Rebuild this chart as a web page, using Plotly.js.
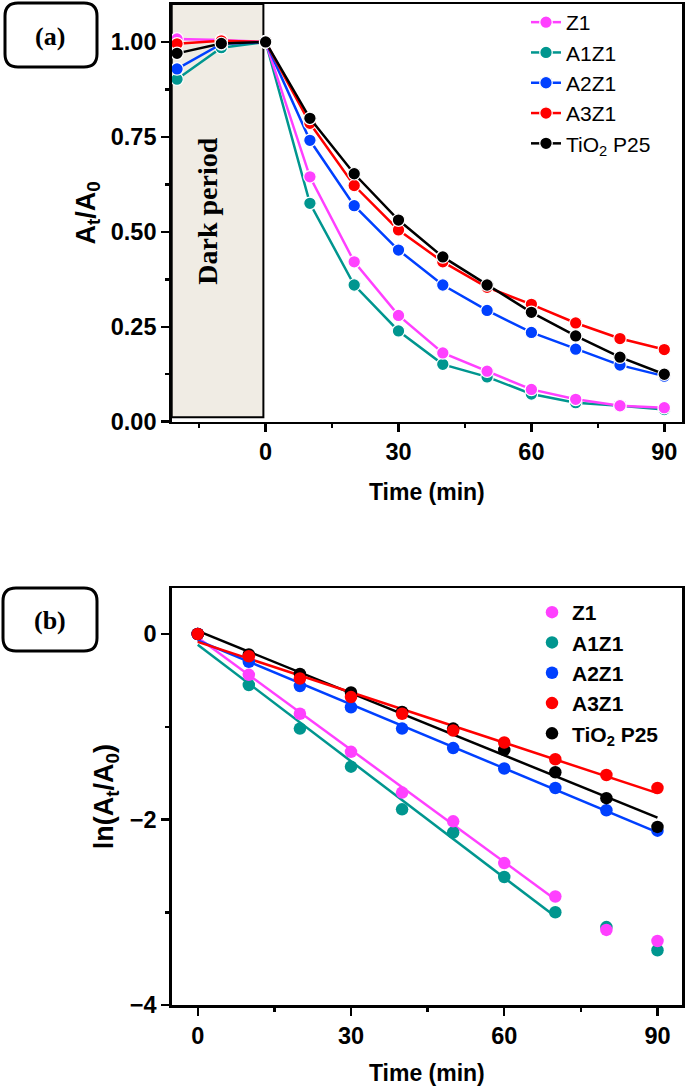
<!DOCTYPE html>
<html>
<head>
<meta charset="utf-8">
<script src="https://cdn.plot.ly/plotly-3.0.1.min.js"></script>
<style>html,body{margin:0;padding:0;background:#fff;}#chart{width:688px;height:1086px;}</style>
</head>
<body>
<div id="chart"></div>
<script>
// ---------- data ----------
const seriesNames = ["Z1", "A1Z1", "A2Z1", "A3Z1", "TiO<sub>2</sub> P25"];
const seriesColors = ["#ff40ff", "#00968f", "#0040ff", "#ff0000", "#000000"];

// panel (a): At/A0 vs time (min)
const timeA = [-20, -10, 0, 10, 20, 30, 40, 50, 60, 70, 80, 90];
const z1A   = [1.008, 1.005, 1.00, 0.645, 0.421, 0.280, 0.181, 0.133, 0.085, 0.059, 0.042, 0.037];
const a1z1A = [0.902, 0.985, 1.00, 0.575, 0.360, 0.239, 0.151, 0.118, 0.073, 0.050, 0.042, 0.032];
const a2z1A = [0.929, 0.995, 1.00, 0.741, 0.569, 0.452, 0.360, 0.293, 0.235, 0.191, 0.149, 0.120];
const a3z1A = [0.995, 1.003, 1.00, 0.786, 0.622, 0.505, 0.421, 0.354, 0.309, 0.260, 0.219, 0.190];
const tio2A = [0.970, 0.996, 1.00, 0.799, 0.653, 0.531, 0.434, 0.360, 0.288, 0.226, 0.170, 0.125];

// panel (b): ln(At/A0) vs time (min)
const timeB = [0, 10, 20, 30, 40, 50, 60, 70, 80, 90];
const z1B   = [0, -0.44, -0.86, -1.27, -1.71, -2.02, -2.47, -2.83, -3.19, -3.31];
const a1z1B = [0, -0.55, -1.02, -1.43, -1.89, -2.14, -2.62, -3.00, -3.16, -3.41];
const a2z1B = [0, -0.30, -0.56, -0.79, -1.02, -1.23, -1.45, -1.66, -1.90, -2.12];
const a3z1B = [0, -0.24, -0.48, -0.68, -0.86, -1.04, -1.17, -1.35, -1.52, -1.66];
const tio2B = [0, -0.22, -0.43, -0.63, -0.84, -1.02, -1.25, -1.49, -1.77, -2.08];
// last time included in each linear fit
const fitEnd = [70, 70, 90, 90, 90];

// tick labels
const xTickVals = [0, 30, 60, 90];
const yTickValsA = [0, 0.25, 0.5, 0.75, 1.0];
const yTickValsB = [-4, -2, 0];

const dataA = [z1A, a1z1A, a2z1A, a3z1A, tio2A];
const dataB = [z1B, a1z1B, a2z1B, a3z1B, tio2B];

// ---------- helpers ----------
function linFit(xs, ys, xmax) {
  const px = [], py = [];
  xs.forEach((x, i) => { if (x <= xmax) { px.push(x); py.push(ys[i]); } });
  const n = px.length;
  const mx = px.reduce((a, b) => a + b, 0) / n;
  const my = py.reduce((a, b) => a + b, 0) / n;
  let sxy = 0, sxx = 0;
  for (let i = 0; i < n; i++) { sxy += (px[i] - mx) * (py[i] - my); sxx += (px[i] - mx) ** 2; }
  const m = sxy / sxx, b = my - m * mx;
  const x0 = Math.min(...px), x1 = Math.max(...px);
  return { x: [x0, x1], y: [m * x0 + b, m * x1 + b] };
}

const W = 688, H = 1086;
function px2x(p) { return p / W; }
function px2y(p) { return 1 - p / H; }
function roundRect(x0, y0, x1, y1, r) {
  const X = px2x, Y = px2y;
  return `M${X(x0 + r)},${Y(y0)} L${X(x1 - r)},${Y(y0)} Q${X(x1)},${Y(y0)} ${X(x1)},${Y(y0 + r)} ` +
         `L${X(x1)},${Y(y1 - r)} Q${X(x1)},${Y(y1)} ${X(x1 - r)},${Y(y1)} ` +
         `L${X(x0 + r)},${Y(y1)} Q${X(x0)},${Y(y1)} ${X(x0)},${Y(y1 - r)} ` +
         `L${X(x0)},${Y(y0 + r)} Q${X(x0)},${Y(y0)} ${X(x0 + r)},${Y(y0)} Z`;
}

// ---------- traces ----------
const drawOrderA = [1, 0, 2, 3, 4];
const drawOrderB = [1, 0, 2, 4, 3];
const traces = [];

drawOrderA.forEach(i => {
  traces.push({
    x: timeA, y: dataA[i], name: seriesNames[i], type: "scatter", mode: "lines+markers",
    xaxis: "x", yaxis: "y", legend: "legend", legendrank: i + 1,
    line: { color: seriesColors[i], width: 2.5 },
    marker: { color: seriesColors[i], size: 12.5, line: { color: "#ffffff", width: 1.2 } },
    cliponaxis: false
  });
});

drawOrderB.forEach(i => {
  const f = linFit(timeB, dataB[i], fitEnd[i]);
  traces.push({
    x: f.x, y: f.y, name: seriesNames[i] + " fit", type: "scatter", mode: "lines",
    xaxis: "x2", yaxis: "y2", showlegend: false,
    line: { color: seriesColors[i], width: 2.5 }
  });
});
drawOrderB.forEach(i => {
  traces.push({
    x: timeB, y: dataB[i], name: seriesNames[i], type: "scatter", mode: "markers",
    xaxis: "x2", yaxis: "y2", legend: "legend2", legendrank: i + 1,
    marker: { color: seriesColors[i], size: 12.5 },
    cliponaxis: false
  });
});

// ---------- layout ----------
const sans = "Liberation Sans, Arial, sans-serif";
const serif = "Liberation Serif, Times New Roman, serif";
const axisCommon = {
  showgrid: false, zeroline: false, showline: true, linecolor: "#000", linewidth: 2.5,
  mirror: true, ticks: "outside", ticklen: 8, tickwidth: 2.5, tickcolor: "#000",
  tickfont: { family: sans, size: 23.5, color: "#000", weight: "bold" }
};
const xDomain = [171.7 / W, 682 / W];

const layout = {
  width: W, height: H,
  margin: { l: 0, r: 0, t: 0, b: 0 },
  paper_bgcolor: "#fff", plot_bgcolor: "#fff",
  font: { family: sans, color: "#000" },
  showlegend: true,
  xaxis: Object.assign({}, axisCommon, {
    domain: xDomain, anchor: "y", range: [-21.2, 94],
    tickmode: "array", tickvals: xTickVals,
    minor: { tickvals: [-15, 15, 45, 75], ticks: "outside", ticklen: 4, tickwidth: 2.5, tickcolor: "#000" },
    title: { text: "Time (min)", font: { family: sans, size: 23, weight: "bold" }, standoff: 20 }
  }),
  yaxis: Object.assign({}, axisCommon, {
    domain: [1 - 421.7 / H, 1 - 4 / H], anchor: "x", range: [0, 1.1],
    tickmode: "array", tickvals: yTickValsA, tickformat: ".2f",
    minor: { tickvals: [0.125, 0.375, 0.625, 0.875], ticks: "outside", ticklen: 4, tickwidth: 2.5, tickcolor: "#000" },
    title: { text: "A<sub>t</sub>/A<sub>0</sub>", font: { family: sans, size: 27, weight: "bold" }, standoff: 8 }
  }),
  xaxis2: Object.assign({}, axisCommon, {
    domain: xDomain, anchor: "y2", range: [-5.1, 94.8],
    tickmode: "array", tickvals: xTickVals,
    minor: { tickvals: [15, 45, 75], ticks: "outside", ticklen: 4, tickwidth: 2.5, tickcolor: "#000" },
    title: { text: "Time (min)", font: { family: sans, size: 23, weight: "bold" }, standoff: 20 }
  }),
  yaxis2: Object.assign({}, axisCommon, {
    domain: [1 - 1005 / H, 1 - 588.3 / H], anchor: "x2", range: [-4, 0.493],
    tickmode: "array", tickvals: yTickValsB,
    minor: { tickvals: [-3, -1], ticks: "outside", ticklen: 4, tickwidth: 2.5, tickcolor: "#000" },
    title: { text: "ln(A<sub>t</sub>/A<sub>0</sub>)", font: { family: sans, size: 27, weight: "bold" }, standoff: 8 }
  }),
  legend: {
    x: px2x(526), y: px2y(2), xanchor: "left", yanchor: "top",
    bgcolor: "rgba(0,0,0,0)", borderwidth: 0,
    font: { family: sans, size: 21, color: "#000" }
  },
  legend2: {
    x: px2x(532), y: px2y(592), xanchor: "left", yanchor: "top",
    bgcolor: "rgba(0,0,0,0)", borderwidth: 0,
    font: { family: sans, size: 21, color: "#000", weight: "bold" }
  },
  shapes: [
    { type: "rect", xref: "x", yref: "y", x0: -21.2, x1: -0.5, y0: 0.012, y1: 1.1,
      fillcolor: "#f0ece4", line: { color: "#000", width: 2 }, layer: "below" },
    { type: "path", xref: "paper", yref: "paper", path: roundRect(5, 3, 97, 67, 13),
      line: { color: "#000", width: 3 }, fillcolor: "rgba(0,0,0,0)" },
    { type: "path", xref: "paper", yref: "paper", path: roundRect(3, 588, 97, 651, 13),
      line: { color: "#000", width: 3 }, fillcolor: "rgba(0,0,0,0)" }
  ],
  annotations: [
    { xref: "x", yref: "y", x: -13, y: 0.553, text: "<b>Dark period</b>", textangle: -90,
      xanchor: "center", yanchor: "middle",
      showarrow: false, font: { family: serif, size: 28, color: "#000" } },
    { xref: "paper", yref: "paper", x: px2x(50), y: px2y(37), text: "<b>(a)</b>",
      xanchor: "center", yanchor: "middle",
      showarrow: false, font: { family: serif, size: 26, color: "#000" } },
    { xref: "paper", yref: "paper", x: px2x(50), y: px2y(620), text: "<b>(b)</b>",
      xanchor: "center", yanchor: "middle",
      showarrow: false, font: { family: serif, size: 26, color: "#000" } }
  ]
};

Plotly.newPlot("chart", traces, layout, { staticPlot: true, displayModeBar: false });
</script>
</body>
</html>
